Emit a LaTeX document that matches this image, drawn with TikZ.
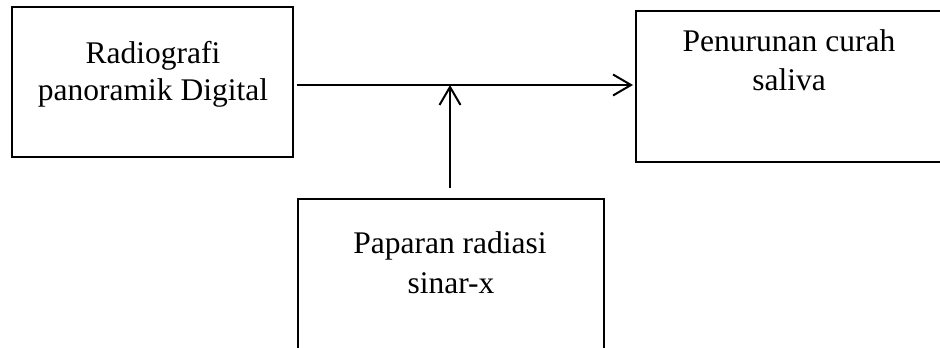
\documentclass[tikz,border=0pt]{standalone}
\usepackage{fontspec}
\setmainfont{Liberation Serif}
\usetikzlibrary{arrows.meta}
\begin{document}
\begin{tikzpicture}[x=1pt,y=-1pt,
  boxnode/.style={draw, line width=2pt, inner sep=0pt, rectangle},
  lbl/.style={anchor=base, inner sep=0pt, font=\fontsize{31.5}{38}\selectfont},
  conn/.style={line width=2pt, -{Straight Barb[length=18pt,width=21pt,line width=2pt]}}
]
\useasboundingbox (0,0) rectangle (940,348);
\clip (0,0) rectangle (940,348);
\node[boxnode, minimum width=281pt, minimum height=150pt] (left) at (152.5,82) {};
\node[boxnode, minimum width=330pt, minimum height=151pt] (right) at (801,86.5) {};
\node[boxnode, minimum width=306pt, minimum height=170pt] (bottom) at (451,284) {};
\node[lbl] (l1) at (153,63) {Radiografi};
\node[lbl] (l2) at (153,100) {panoramik Digital};
\node[lbl] (r1) at (789,51) {Penurunan curah};
\node[lbl] (r2) at (789,90) {saliva};
\node[lbl] (b1) at (450,253) {Paparan radiasi};
\node[lbl] (b2) at (451,293) {sinar-x};
\coordinate (j) at (450,85);
\coordinate (vs) at (450,188);
\draw[conn, shorten <=3pt, shorten >=2pt] (left.east |- j) -- (right.west |- j);
\draw[conn] (vs) -- (j);
\end{tikzpicture}
\end{document}
